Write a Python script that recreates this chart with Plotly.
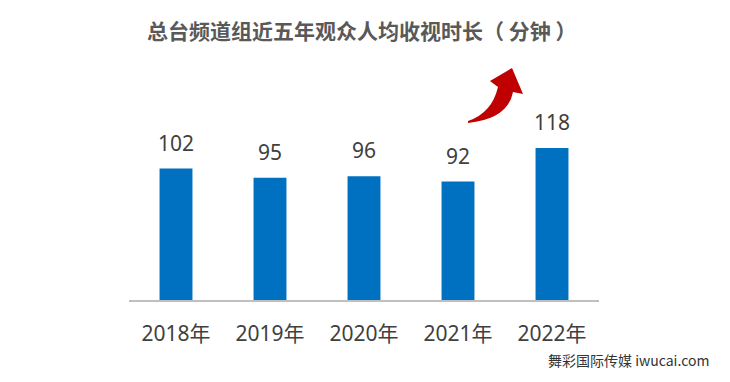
import plotly.graph_objects as go

years = ["2018年", "2019年", "2020年", "2021年", "2022年"]
minutes = [102, 95, 96, 92, 118]
title_text = "总台频道组近五年观众人均收视时长（ 分钟 ）"
watermark = "舞彩国际传媒 iwucai.com"

W, H = 730, 382
L, R, T, B = 129, 131, 60, 82
PW, PH = W - L - R, H - T - B

def px(x):
    return (x - L) / PW

def py(y):
    return (H - B - y) / PH

font_family = "Noto Sans, Noto Sans CJK SC, sans-serif"

fig = go.Figure()
fig.add_trace(go.Bar(
    x=years, y=minutes,
    marker=dict(color="#0070C0", line=dict(width=0)),
    hoverinfo="skip",
))

for yr, v in zip(years, minutes):
    fig.add_annotation(
        x=yr, y=v, xref="x", yref="y", text=str(v), showarrow=False,
        yanchor="bottom", yshift=10,
        font=dict(size=21, color="#404040", family=font_family),
    )

# title
fig.add_annotation(
    x=px(362), y=py(30), xref="paper", yref="paper",
    text="<b>" + title_text + "</b>", showarrow=False,
    xanchor="center", yanchor="middle",
    font=dict(size=21, color="#595959", family="Noto Sans CJK SC"),
)

# watermark
fig.add_annotation(
    x=px(711), y=py(360), xref="paper", yref="paper",
    text=watermark, showarrow=False, xanchor="right", yanchor="middle",
    font=dict(size=14, color="#333333", family="Noto Sans CJK SC"),
)

# red curved arrow
pts = [
    ("M", [(468, 121)]),
    ("Q", [(492, 113), (498, 87)]),
    ("L", [(490, 81)]),
    ("L", [(512, 68)]),
    ("L", [(523, 94)]),
    ("L", [(513, 92)]),
    ("Q", [(508, 119), (468, 123)]),
]
path = ""
for cmd, coords in pts:
    path += cmd + " " + " ".join(f"{px(x):.4f},{py(y):.4f}" for x, y in coords) + " "
path += "Z"
fig.add_shape(type="path", path=path, xref="paper", yref="paper",
              fillcolor="#C00000", line=dict(width=0))

fig.update_layout(
    width=W, height=H,
    margin=dict(l=L, r=R, t=T, b=B, pad=0),
    paper_bgcolor="white", plot_bgcolor="white",
    bargap=0.65, showlegend=False,
    font=dict(family=font_family),
)
fig.update_xaxes(
    showline=True, linecolor="#BFBFBF", linewidth=1.5,
    ticks="", showgrid=False,
    tickfont=dict(size=21, color="#404040", family=font_family),
    ticklabelstandoff=14,
)
fig.update_yaxes(range=[0, PH / 1.288], visible=False, showgrid=False, zeroline=False)

fig.write_html("out.html", config={"displayModeBar": False},
               post_script="document.body.style.margin='0';")
